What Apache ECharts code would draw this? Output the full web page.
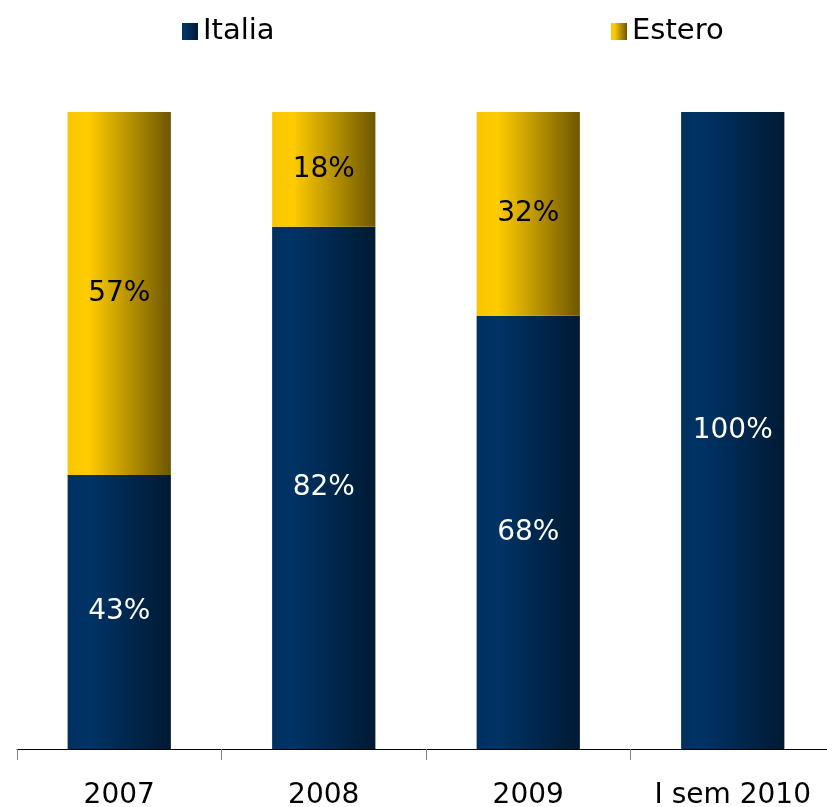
<!DOCTYPE html>
<html>
<head>
<meta charset="utf-8">
<script src="https://cdn.jsdelivr.net/npm/echarts@6/dist/echarts.min.js"></script>
<style>
  html, body { margin: 0; padding: 0; background: #fff; }
  #chart { width: 827px; height: 807px; }
</style>
</head>
<body>
<div id="chart"></div>
<script>
const categories = ['2007', '2008', '2009', 'I sem 2010'];
const italia = [43, 82, 68, 100];
const estero = [57, 18, 32, 0];

const font = '"DejaVu Sans", Verdana, sans-serif';

function grad(c0, c1, c2) {
  return new echarts.graphic.LinearGradient(0, 0, 1, 0, [
    { offset: 0, color: c0 },
    { offset: 0.2, color: c1 },
    { offset: 1, color: c2 }
  ]);
}

const chart = echarts.init(document.getElementById('chart'));

chart.setOption({
  animation: false,
  grid: { left: 17, width: 818, top: 112, bottom: 58, outerBoundsMode: 'none', containLabel: false },
  legend: [
    {
      data: ['Italia'], left: 177, top: 12, icon: 'rect',
      itemWidth: 16, itemHeight: 17, itemGap: 10,
      textStyle: { fontFamily: font, fontSize: 29, color: '#000' }
    },
    {
      data: ['Estero'], left: 606, top: 12, icon: 'rect',
      itemWidth: 16, itemHeight: 17, itemGap: 10,
      textStyle: { fontFamily: font, fontSize: 29, color: '#000' }
    }
  ],
  xAxis: {
    type: 'category',
    data: categories,
    axisLine: { lineStyle: { color: '#000', width: 1 } },
    axisTick: { show: true, interval: 0, length: 11, lineStyle: { color: '#808080' } },
    axisLabel: { interval: 0, fontFamily: font, fontSize: 28, color: '#000', margin: 33 }
  },
  yAxis: {
    type: 'value', min: 0, max: 100, show: false,
    splitLine: { show: false }
  },
  series: [
    {
      name: 'Italia', type: 'bar', stack: 'tot', barWidth: '50.5%',
      data: italia,
      itemStyle: { color: grad('#00305f', '#003366', '#001a33') },
      label: {
        show: true, position: 'inside', formatter: '{c}%',
        fontFamily: font, fontSize: 28, color: '#fff'
      }
    },
    {
      name: 'Estero', type: 'bar', stack: 'tot', barWidth: '50.5%',
      data: estero,
      itemStyle: { color: grad('#f8c600', '#ffcc00', '#6e5700') },
      label: {
        show: true, position: 'inside',
        formatter: p => p.value > 0 ? p.value + '%' : '',
        fontFamily: font, fontSize: 28, color: '#000'
      }
    }
  ]
});
</script>
</body>
</html>
